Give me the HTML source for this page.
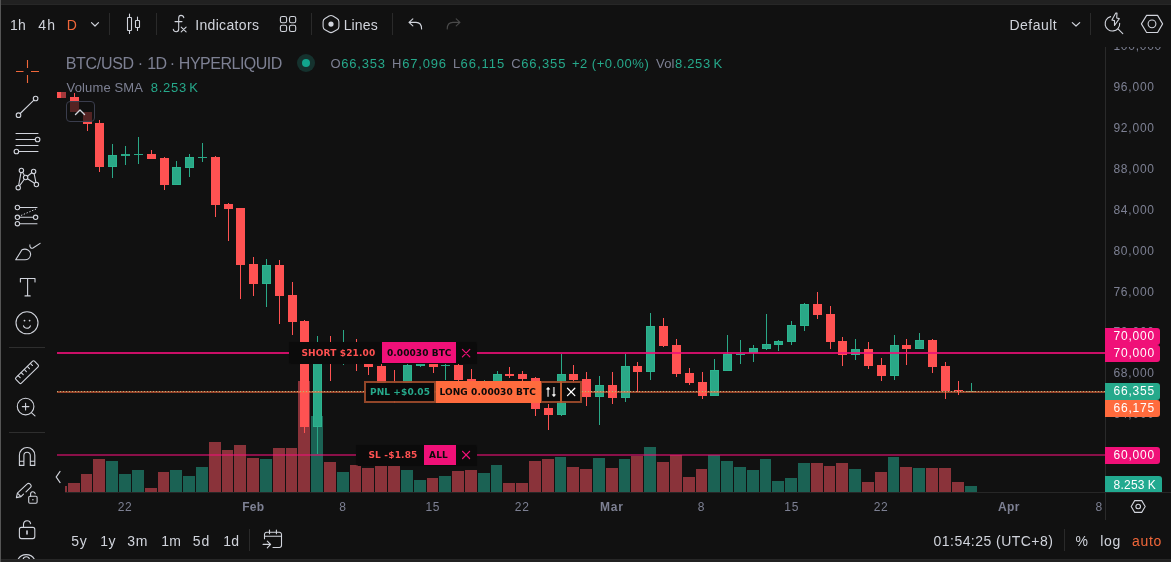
<!DOCTYPE html>
<html lang="en">
<head>
<meta charset="utf-8">
<title>BTC/USD Chart</title>
<style>
*{box-sizing:border-box;margin:0;padding:0}
html,body{width:1171px;height:562px;overflow:hidden;background:#111111}
body{position:relative;font-family:"Liberation Sans",sans-serif;color:#d1d4dc;font-size:14px}
.abs{position:absolute}
.t{position:absolute;white-space:nowrap;line-height:1}
.sep{position:absolute;width:1px;background:#2a2a2a}
.hsep{position:absolute;height:1px;background:#2e2e2e}
#topstrip{left:0;top:0;width:1171px;height:5px;background:#212121;border-bottom:1px solid #272727}
#botstrip{left:0;top:559px;width:1171px;height:3px;background:#212121;border-top:1px solid #272727}
#leftedge{left:0;top:0;width:1px;height:562px;background:#555555}
.tb{font-size:14px;color:#d1d4dc;top:17px}
.gray{color:#7d8093}
.green{color:#26a98b}
.lg{font-size:13px;top:57px;letter-spacing:.55px}
.ax{font-size:13px;color:#7d8093;left:1113px;letter-spacing:.25px}
.tm{font-size:12px;color:#7d8093;top:501px;letter-spacing:.3px}
.tm b{font-weight:700}
.plabel{position:absolute;left:1105px;width:55px;height:17px;border-radius:0 3px 3px 0;color:#fff;font-size:13px;line-height:17px;padding-left:8px;letter-spacing:.25px;white-space:nowrap}
.lblbg{background:#0b0b0b;box-shadow:0 0 1px 0.5px #0b0b0b}
.ol{font-family:"DejaVu Sans","Liberation Sans",sans-serif;font-weight:700;font-size:10px;position:absolute;white-space:nowrap;line-height:1}
svg{position:absolute;overflow:visible}
.ic{stroke:#d1d4dc;fill:none;stroke-width:1.1;stroke-linecap:round;stroke-linejoin:round}
</style>
</head>
<body>
<div class="abs" id="topstrip"></div>
<div class="abs" id="botstrip"></div>
<div class="abs" id="leftedge"></div>
<!-- top toolbar -->
<svg width="1171" height="562" viewBox="0 0 1171 562" style="left:0;top:0;pointer-events:none">
<g class="ic">
<!-- interval chevron -->
<path d="M91.5 22.6 L95 26 L98.5 22.6" style="stroke-width:1.2"/>
<!-- candles icon -->
<rect x="127.5" y="17.5" width="4" height="13" rx=".5"/>
<path d="M129.5 14 V17.5 M129.5 30.5 V33.5"/>
<rect x="135.5" y="20.5" width="4" height="7" rx=".5"/>
<path d="M137.5 17 V20.5 M137.5 27.5 V30.5"/>
<!-- fx -->
<path d="M183.8 17.7 C183.5 16 182.5 15.4 181 15.4 C179.5 15.4 178.7 16.5 178.7 18.3 L178.7 29 C178.7 31 177.5 31.7 176.2 31.7 C174.7 31.7 173.6 30.8 173.3 29.4 M175 21.6 H182 M181.2 27.1 L186.1 31.9 M186.1 27.1 L181.2 31.9"/>
<!-- grid -->
<rect x="280.4" y="16.5" width="6.2" height="6.2" rx="1.8"/>
<rect x="289.5" y="16.5" width="6.2" height="6.2" rx="1.8"/>
<rect x="280.4" y="25.3" width="6.2" height="6.2" rx="1.8"/>
<rect x="289.5" y="25.3" width="6.2" height="6.2" rx="1.8"/>
<!-- lines hex -->
<path d="M329.09 16.05 Q331.00 14.95 332.91 16.05 L336.99 18.40 Q338.90 19.50 338.90 21.70 L338.90 26.40 Q338.90 28.60 336.99 29.70 L332.91 32.05 Q331.00 33.15 329.09 32.05 L325.01 29.70 Q323.10 28.60 323.10 26.40 L323.10 21.70 Q323.10 19.50 325.01 18.40 Z"/>
<circle cx="331" cy="24.1" r="2.6" style="fill:#d1d4dc;stroke:none"/>
<!-- undo -->
<path d="M412.85 18.8 L409 22.35 L412.85 25.9 M409 22.35 H416 C419.5 22.35 421.6 24.8 421.6 28.9"/>
<!-- redo -->
<path d="M456.2 18.8 L460 22.35 L456.2 25.9 M460 22.35 H453 C449.5 22.35 447.2 24.8 447.2 28.9" style="stroke:#4a4a4a"/>
<!-- default chevron -->
<path d="M1072.3 22.6 L1076 26 L1079.7 22.6" style="stroke-width:1.2"/>
<!-- quick search -->
<path d="M1110.6 16.6 A7.3 7.3 0 1 0 1119.7 23.2 M1117.7 28.6 L1122.8 33.6"/>
<path d="M1115.8 13 L1111.9 19.95 L1114.5 20.6 L1114.5 25.5 L1119.3 18.65 L1116.7 18 L1117 13.1 Z"/>
<!-- settings hex -->
<path d="M1141.4 23.9 L1146.6 15.4 L1157.6 15.4 L1162.6 23.9 L1157.6 32.5 L1146.6 32.5 Z"/>
<circle cx="1152" cy="23.85" r="3.9"/>
<!-- bottom calendar -->
<path d="M264.5 538.8 V534.5 A2.2 2.2 0 0 1 266.7 532.3 H279.3 A2.2 2.2 0 0 1 281.5 534.5 V545.3 A2.2 2.2 0 0 1 279.3 547.5 H273 M264.5 536.2 H281.5 M269.5 530 V533.8 M276.4 530 V533.8 M263.1 544.4 H270.6 M267.3 541.2 L270.6 544.4 L267.3 547.8"/>
<!-- axis settings hex -->
<path d="M1131.2 506.5 L1134.7 500.6 L1141.7 500.6 L1145.2 506.5 L1141.7 512.4 L1134.7 512.4 Z"/>
<circle cx="1138.2" cy="506.5" r="2.3"/>
<!-- scroll left chevron -->
<path d="M60 471.5 L56.2 477 L60 482.5" style="stroke-width:1.3"/>
</g>
</svg>

<div class="sep" style="left:109px;top:13px;height:22px"></div>
<div class="sep" style="left:156px;top:13px;height:22px"></div>
<div class="sep" style="left:311px;top:13px;height:22px"></div>
<div class="sep" style="left:392px;top:13px;height:22px"></div>
<div class="sep" style="left:1090px;top:13px;height:22px"></div>
<!-- chart -->
<svg id="chart" width="1171" height="562" viewBox="0 0 1171 562" style="left:0;top:0" shape-rendering="crispEdges">
<rect x="65" y="486" width="2" height="6" fill="#8a333a"/>
<rect x="68" y="483" width="12" height="9" fill="#8a333a"/>
<rect x="81" y="474" width="11" height="18" fill="#8a333a"/>
<rect x="93" y="459" width="12" height="33" fill="#8a333a"/>
<rect x="106" y="461" width="12" height="31" fill="#1b6254"/>
<rect x="119" y="474" width="12" height="18" fill="#1b6254"/>
<rect x="132" y="470" width="12" height="22" fill="#1b6254"/>
<rect x="145" y="488" width="12" height="4" fill="#8a333a"/>
<rect x="158" y="472" width="11" height="20" fill="#8a333a"/>
<rect x="170" y="470" width="12" height="22" fill="#1b6254"/>
<rect x="183" y="476" width="12" height="16" fill="#1b6254"/>
<rect x="196" y="467" width="12" height="25" fill="#1b6254"/>
<rect x="209" y="442" width="12" height="50" fill="#8a333a"/>
<rect x="222" y="450" width="11" height="42" fill="#8a333a"/>
<rect x="234" y="445" width="12" height="47" fill="#8a333a"/>
<rect x="247" y="458" width="12" height="34" fill="#8a333a"/>
<rect x="260" y="459" width="12" height="33" fill="#1b6254"/>
<rect x="273" y="448" width="12" height="44" fill="#8a333a"/>
<rect x="286" y="448" width="11" height="44" fill="#8a333a"/>
<rect x="298" y="381" width="12" height="111" fill="#8a333a"/>
<rect x="311" y="416" width="12" height="76" fill="#1b6254"/>
<rect x="324" y="462" width="12" height="30" fill="#8a333a"/>
<rect x="337" y="472" width="12" height="20" fill="#1b6254"/>
<rect x="350" y="465" width="11" height="27" fill="#8a333a"/>
<rect x="362" y="468" width="12" height="24" fill="#8a333a"/>
<rect x="375" y="464" width="12" height="28" fill="#8a333a"/>
<rect x="388" y="463" width="12" height="29" fill="#8a333a"/>
<rect x="401" y="470" width="12" height="22" fill="#1b6254"/>
<rect x="414" y="480" width="12" height="12" fill="#1b6254"/>
<rect x="427" y="478" width="11" height="14" fill="#8a333a"/>
<rect x="439" y="476" width="12" height="16" fill="#1b6254"/>
<rect x="452" y="471" width="12" height="21" fill="#8a333a"/>
<rect x="465" y="470" width="12" height="22" fill="#8a333a"/>
<rect x="478" y="473" width="12" height="19" fill="#1b6254"/>
<rect x="491" y="465" width="11" height="27" fill="#1b6254"/>
<rect x="503" y="483" width="12" height="9" fill="#8a333a"/>
<rect x="516" y="483" width="12" height="9" fill="#8a333a"/>
<rect x="529" y="461" width="12" height="31" fill="#8a333a"/>
<rect x="542" y="459" width="12" height="33" fill="#8a333a"/>
<rect x="555" y="457" width="11" height="35" fill="#1b6254"/>
<rect x="567" y="467" width="12" height="25" fill="#8a333a"/>
<rect x="580" y="469" width="12" height="23" fill="#8a333a"/>
<rect x="593" y="458" width="12" height="34" fill="#1b6254"/>
<rect x="606" y="468" width="12" height="24" fill="#8a333a"/>
<rect x="619" y="459" width="11" height="33" fill="#1b6254"/>
<rect x="631" y="456" width="12" height="36" fill="#8a333a"/>
<rect x="644" y="447" width="12" height="45" fill="#1b6254"/>
<rect x="657" y="462" width="12" height="30" fill="#8a333a"/>
<rect x="670" y="455" width="12" height="37" fill="#8a333a"/>
<rect x="683" y="477" width="12" height="15" fill="#8a333a"/>
<rect x="696" y="469" width="11" height="23" fill="#8a333a"/>
<rect x="708" y="455" width="12" height="37" fill="#1b6254"/>
<rect x="721" y="461" width="12" height="31" fill="#1b6254"/>
<rect x="734" y="467" width="12" height="25" fill="#1b6254"/>
<rect x="747" y="470" width="12" height="22" fill="#1b6254"/>
<rect x="760" y="459" width="11" height="33" fill="#1b6254"/>
<rect x="772" y="481" width="12" height="11" fill="#1b6254"/>
<rect x="785" y="478" width="12" height="14" fill="#1b6254"/>
<rect x="798" y="463" width="12" height="29" fill="#1b6254"/>
<rect x="811" y="463" width="12" height="29" fill="#8a333a"/>
<rect x="824" y="466" width="11" height="26" fill="#8a333a"/>
<rect x="836" y="463" width="12" height="29" fill="#8a333a"/>
<rect x="849" y="469" width="12" height="23" fill="#1b6254"/>
<rect x="862" y="482" width="12" height="10" fill="#8a333a"/>
<rect x="875" y="472" width="12" height="20" fill="#8a333a"/>
<rect x="888" y="457" width="11" height="35" fill="#1b6254"/>
<rect x="900" y="467" width="12" height="25" fill="#8a333a"/>
<rect x="913" y="468" width="12" height="24" fill="#1b6254"/>
<rect x="926" y="468" width="12" height="24" fill="#8a333a"/>
<rect x="939" y="468" width="12" height="24" fill="#8a333a"/>
<rect x="952" y="482" width="12" height="10" fill="#8a333a"/>
<rect x="965" y="486" width="12" height="6" fill="#1b6254"/>
<rect x="61" y="92" width="1" height="6" fill="#ff5252"/>
<rect x="57" y="92" width="9" height="6" fill="#ff5252"/>
<rect x="74" y="93" width="1" height="19" fill="#ff5252"/>
<rect x="70" y="97" width="9" height="15" fill="#ff5252"/>
<rect x="87" y="112" width="1" height="19" fill="#ff5252"/>
<rect x="83" y="112" width="9" height="12" fill="#ff5252"/>
<rect x="99" y="120" width="1" height="52" fill="#ff5252"/>
<rect x="95" y="123" width="9" height="44" fill="#ff5252"/>
<rect x="112" y="144" width="1" height="33.5" fill="#2aa887"/>
<rect x="108.5" y="155.5" width="8" height="11" fill="#2aa887" stroke="#2db48f" stroke-width="1"/>
<rect x="125" y="146" width="1" height="19" fill="#2aa887"/>
<rect x="121" y="154" width="9" height="1.5" fill="#2aa887"/>
<rect x="138" y="137" width="1" height="27" fill="#2aa887"/>
<rect x="134" y="154" width="9" height="1" fill="#2aa887"/>
<rect x="151" y="150" width="1" height="9" fill="#ff5252"/>
<rect x="147" y="154" width="9" height="5" fill="#ff5252"/>
<rect x="164" y="157" width="1" height="33" fill="#ff5252"/>
<rect x="160" y="158" width="9" height="27" fill="#ff5252"/>
<rect x="176" y="161" width="1" height="24" fill="#2aa887"/>
<rect x="172.5" y="167.5" width="8" height="17" fill="#2aa887" stroke="#2db48f" stroke-width="1"/>
<rect x="189" y="154" width="1" height="23" fill="#2aa887"/>
<rect x="185.5" y="157.5" width="8" height="10" fill="#2aa887" stroke="#2db48f" stroke-width="1"/>
<rect x="202" y="143" width="1" height="19" fill="#2aa887"/>
<rect x="198" y="157" width="9" height="1" fill="#2aa887"/>
<rect x="215" y="156" width="1" height="61" fill="#ff5252"/>
<rect x="211" y="157" width="9" height="48" fill="#ff5252"/>
<rect x="228" y="203" width="1" height="38" fill="#ff5252"/>
<rect x="224" y="204" width="9" height="5" fill="#ff5252"/>
<rect x="240" y="208" width="1" height="91" fill="#ff5252"/>
<rect x="236" y="208" width="9" height="57" fill="#ff5252"/>
<rect x="253" y="257" width="1" height="39" fill="#ff5252"/>
<rect x="249" y="264" width="9" height="20" fill="#ff5252"/>
<rect x="266" y="259" width="1" height="48" fill="#2aa887"/>
<rect x="262.5" y="265.5" width="8" height="18" fill="#2aa887" stroke="#2db48f" stroke-width="1"/>
<rect x="279" y="260" width="1" height="64" fill="#ff5252"/>
<rect x="275" y="265" width="9" height="31" fill="#ff5252"/>
<rect x="292" y="282" width="1" height="53" fill="#ff5252"/>
<rect x="288" y="295" width="9" height="27" fill="#ff5252"/>
<rect x="304" y="320" width="1" height="113" fill="#ff5252"/>
<rect x="300" y="321" width="9" height="106" fill="#ff5252"/>
<rect x="317" y="336" width="1" height="118" fill="#2aa887"/>
<rect x="313.5" y="352.5" width="8" height="74" fill="#2aa887" stroke="#2db48f" stroke-width="1"/>
<rect x="330" y="336" width="1" height="45" fill="#ff5252"/>
<rect x="326" y="352" width="9" height="6" fill="#ff5252"/>
<rect x="343" y="330" width="1" height="35" fill="#2aa887"/>
<rect x="339.5" y="351.5" width="8" height="6" fill="#2aa887" stroke="#2db48f" stroke-width="1"/>
<rect x="356" y="339" width="1" height="32" fill="#ff5252"/>
<rect x="352" y="351" width="9" height="9" fill="#ff5252"/>
<rect x="368" y="360" width="1" height="15" fill="#ff5252"/>
<rect x="364" y="360" width="9" height="7" fill="#ff5252"/>
<rect x="381" y="364" width="1" height="21" fill="#ff5252"/>
<rect x="377" y="366" width="9" height="19" fill="#ff5252"/>
<rect x="394" y="370" width="1" height="32.5" fill="#ff5252"/>
<rect x="390" y="385" width="9" height="10" fill="#ff5252"/>
<rect x="407" y="363" width="1" height="32" fill="#2aa887"/>
<rect x="403.5" y="365.5" width="8" height="29" fill="#2aa887" stroke="#2db48f" stroke-width="1"/>
<rect x="420" y="355" width="1" height="12" fill="#2aa887"/>
<rect x="416.5" y="358.5" width="8" height="7" fill="#2aa887" stroke="#2db48f" stroke-width="1"/>
<rect x="433" y="356" width="1" height="17" fill="#ff5252"/>
<rect x="429" y="358" width="9" height="9" fill="#ff5252"/>
<rect x="445" y="360" width="1" height="20" fill="#2aa887"/>
<rect x="441" y="365" width="9" height="1" fill="#2aa887"/>
<rect x="458" y="363" width="1" height="21" fill="#ff5252"/>
<rect x="454" y="365" width="9" height="15" fill="#ff5252"/>
<rect x="471" y="369" width="1" height="23" fill="#ff5252"/>
<rect x="467" y="379" width="9" height="11" fill="#ff5252"/>
<rect x="484" y="380" width="1" height="15" fill="#2aa887"/>
<rect x="480.5" y="385.5" width="8" height="4" fill="#2aa887" stroke="#2db48f" stroke-width="1"/>
<rect x="497" y="371" width="1" height="17" fill="#2aa887"/>
<rect x="493.5" y="374.5" width="8" height="10" fill="#2aa887" stroke="#2db48f" stroke-width="1"/>
<rect x="509" y="367" width="1" height="11" fill="#ff5252"/>
<rect x="505" y="374" width="9" height="1.5" fill="#ff5252"/>
<rect x="522" y="371" width="1" height="11" fill="#ff5252"/>
<rect x="518" y="374" width="9" height="5" fill="#ff5252"/>
<rect x="535" y="377" width="1" height="39" fill="#ff5252"/>
<rect x="531" y="378" width="9" height="31" fill="#ff5252"/>
<rect x="548" y="404" width="1" height="26" fill="#ff5252"/>
<rect x="544" y="408" width="9" height="7" fill="#ff5252"/>
<rect x="561" y="354" width="1" height="62" fill="#2aa887"/>
<rect x="557.5" y="374.5" width="8" height="40" fill="#2aa887" stroke="#2db48f" stroke-width="1"/>
<rect x="573" y="365" width="1" height="19" fill="#ff5252"/>
<rect x="569" y="374" width="9" height="6" fill="#ff5252"/>
<rect x="586" y="372" width="1" height="34" fill="#ff5252"/>
<rect x="582" y="379" width="9" height="18" fill="#ff5252"/>
<rect x="599" y="376" width="1" height="49" fill="#2aa887"/>
<rect x="595.5" y="385.5" width="8" height="11" fill="#2aa887" stroke="#2db48f" stroke-width="1"/>
<rect x="612" y="372" width="1" height="32" fill="#ff5252"/>
<rect x="608" y="385" width="9" height="13" fill="#ff5252"/>
<rect x="625" y="354" width="1" height="48" fill="#2aa887"/>
<rect x="621.5" y="366.5" width="8" height="31" fill="#2aa887" stroke="#2db48f" stroke-width="1"/>
<rect x="637" y="362" width="1" height="30" fill="#ff5252"/>
<rect x="633" y="366" width="9" height="6" fill="#ff5252"/>
<rect x="650" y="313" width="1" height="67" fill="#2aa887"/>
<rect x="646.5" y="326.5" width="8" height="45" fill="#2aa887" stroke="#2db48f" stroke-width="1"/>
<rect x="663" y="318" width="1" height="29" fill="#ff5252"/>
<rect x="659" y="326" width="9" height="20" fill="#ff5252"/>
<rect x="676" y="339" width="1" height="38" fill="#ff5252"/>
<rect x="672" y="345" width="9" height="29" fill="#ff5252"/>
<rect x="689" y="368" width="1" height="17" fill="#ff5252"/>
<rect x="685" y="373" width="9" height="10" fill="#ff5252"/>
<rect x="702" y="372" width="1" height="27" fill="#ff5252"/>
<rect x="698" y="382" width="9" height="14" fill="#ff5252"/>
<rect x="714" y="359" width="1" height="37" fill="#2aa887"/>
<rect x="710.5" y="370.5" width="8" height="25" fill="#2aa887" stroke="#2db48f" stroke-width="1"/>
<rect x="727" y="335" width="1" height="36" fill="#2aa887"/>
<rect x="723.5" y="354.5" width="8" height="16" fill="#2aa887" stroke="#2db48f" stroke-width="1"/>
<rect x="740" y="340" width="1" height="24" fill="#2aa887"/>
<rect x="736" y="354" width="9" height="1" fill="#2aa887"/>
<rect x="753" y="345" width="1" height="17" fill="#2aa887"/>
<rect x="749.5" y="348.5" width="8" height="3.5" fill="#2aa887" stroke="#2db48f" stroke-width="1"/>
<rect x="766" y="314" width="1" height="36" fill="#2aa887"/>
<rect x="762.5" y="344.5" width="8" height="4" fill="#2aa887" stroke="#2db48f" stroke-width="1"/>
<rect x="778" y="340" width="1" height="11" fill="#2aa887"/>
<rect x="774.5" y="341.5" width="8" height="3" fill="#2aa887" stroke="#2db48f" stroke-width="1"/>
<rect x="791" y="321" width="1" height="24" fill="#2aa887"/>
<rect x="787.5" y="325.5" width="8" height="16" fill="#2aa887" stroke="#2db48f" stroke-width="1"/>
<rect x="804" y="303" width="1" height="28" fill="#2aa887"/>
<rect x="800.5" y="304.5" width="8" height="21" fill="#2aa887" stroke="#2db48f" stroke-width="1"/>
<rect x="817" y="292" width="1" height="27" fill="#ff5252"/>
<rect x="813" y="304" width="9" height="11" fill="#ff5252"/>
<rect x="830" y="306" width="1" height="43" fill="#ff5252"/>
<rect x="826" y="314" width="9" height="28" fill="#ff5252"/>
<rect x="842" y="337" width="1" height="29" fill="#ff5252"/>
<rect x="838" y="341" width="9" height="14" fill="#ff5252"/>
<rect x="855" y="339" width="1" height="21" fill="#2aa887"/>
<rect x="851.5" y="349.5" width="8" height="5" fill="#2aa887" stroke="#2db48f" stroke-width="1"/>
<rect x="868" y="342" width="1" height="27" fill="#ff5252"/>
<rect x="864" y="349" width="9" height="17" fill="#ff5252"/>
<rect x="881" y="358" width="1" height="23" fill="#ff5252"/>
<rect x="877" y="365" width="9" height="11" fill="#ff5252"/>
<rect x="894" y="335" width="1" height="45" fill="#2aa887"/>
<rect x="890.5" y="345.5" width="8" height="30" fill="#2aa887" stroke="#2db48f" stroke-width="1"/>
<rect x="906" y="339" width="1" height="26" fill="#ff5252"/>
<rect x="902" y="345" width="9" height="4" fill="#ff5252"/>
<rect x="919" y="333" width="1" height="16" fill="#2aa887"/>
<rect x="915.5" y="340.5" width="8" height="8" fill="#2aa887" stroke="#2db48f" stroke-width="1"/>
<rect x="932" y="339" width="1" height="34" fill="#ff5252"/>
<rect x="928" y="340" width="9" height="27" fill="#ff5252"/>
<rect x="945" y="362" width="1" height="37" fill="#ff5252"/>
<rect x="941" y="366" width="9" height="25" fill="#ff5252"/>
<rect x="958" y="381" width="1" height="14" fill="#ff5252"/>
<rect x="954" y="390" width="9" height="1" fill="#ff5252"/>
<rect x="971" y="383" width="1" height="9" fill="#2aa887"/>
<rect x="967" y="391" width="9" height="1" fill="#2aa887"/>
<rect x="61" y="92" width="5" height="6" fill="#a3383b"/>
<rect x="57" y="352" width="1048" height="2" fill="#f01078" fill-opacity="0.84"/>
<rect x="57" y="391" width="1048" height="2" fill="#ff6b3d" fill-opacity="0.555"/>
<line x1="57" y1="391.5" x2="1105" y2="391.5" stroke="#b5b07c" stroke-width="1" stroke-dasharray="1 2" stroke-dashoffset="0"/>
<rect x="57" y="454" width="1048" height="2" fill="#f01078" fill-opacity="0.55"/>
</svg>
<!-- legend -->
<div class="abs" style="left:297px;top:54px;width:18px;height:18px;border-radius:50%;background:#15322e"></div>
<div class="abs" style="left:302px;top:59px;width:8px;height:8px;border-radius:50%;background:#12a58d"></div>
<div class="abs" style="left:66px;top:101px;width:29px;height:21px;border:1px solid #3a3d4d;border-radius:4px;background:rgba(17,17,17,.72)"></div>
<svg width="12" height="8" style="left:74px;top:108px"><path d="M1.5 6.5 L6 2 L10.5 6.5" class="ic" style="stroke-width:1.4"/></svg>
<!-- price axis -->
<div class="sep" style="left:1105px;top:47px;height:473px"></div>
<div class="hsep" style="left:65px;top:492px;width:1106px;background:#272727"></div>
<div class="t" style="left:1113.38px;top:81px;font-size:12px;color:#7d8093;letter-spacing:0.789px">96,000</div>
<div class="t" style="left:1113.38px;top:122px;font-size:12px;color:#7d8093;letter-spacing:0.789px">92,000</div>
<div class="t" style="left:1113.38px;top:163px;font-size:12px;color:#7d8093;letter-spacing:0.789px">88,000</div>
<div class="t" style="left:1113.38px;top:204px;font-size:12px;color:#7d8093;letter-spacing:0.789px">84,000</div>
<div class="t" style="left:1113.38px;top:245px;font-size:12px;color:#7d8093;letter-spacing:0.789px">80,000</div>
<div class="t" style="left:1113.38px;top:286px;font-size:12px;color:#7d8093;letter-spacing:0.789px">76,000</div>
<div class="t" style="left:1113.38px;top:326px;font-size:12px;color:#7d8093;letter-spacing:0.789px">72,000</div>
<div class="t" style="left:1113.38px;top:367px;font-size:12px;color:#7d8093;letter-spacing:0.789px">68,000</div>
<div class="t" style="left:1113.38px;top:408px;font-size:12px;color:#7d8093;letter-spacing:0.789px">64,000</div>
<div class="abs" style="left:1106px;top:47px;width:65px;height:10px;overflow:hidden"><div class="t" style="left:7.38px;top:-7px;font-size:12px;color:#7d8093;letter-spacing:0.750px">100,000</div></div>
<div class="plabel" style="top:328px;background:#f01078"></div>
<div class="plabel" style="top:345px;background:#f01078"></div>
<div class="plabel" style="top:383px;background:#26a98b"></div>
<div class="plabel" style="top:400px;background:#ff6b3d"></div>
<div class="plabel" style="top:447px;background:#f01078"></div>
<div class="plabel" style="top:476px;height:16px;width:57px;background:#22aa90;border-radius:0 3px 0 0"></div>
<!-- time axis -->
<!-- order labels -->
<div class="abs lblbg" style="left:289px;top:342px;width:187px;height:20.5px"></div>
<div class="abs" style="left:382.4px;top:342.4px;width:74.1px;height:20.8px;background:#f01078"></div>
<div class="abs lblbg" style="left:356px;top:445px;width:120px;height:20px"></div>
<div class="abs" style="left:424px;top:445px;width:32px;height:20px;background:#f01078"></div>
<div class="abs" style="left:364px;top:381px;width:218px;height:22px;background:#9c4a2b;opacity:.93"></div>
<div class="abs" style="left:366px;top:383px;width:68px;height:18px;background:#0a0a0a"></div>
<div class="abs" style="left:436px;top:381px;width:105px;height:22px;background:#ff6b3d"></div>
<div class="abs" style="left:542px;top:383px;width:18px;height:18px;background:#0a0a0a"></div>
<div class="abs" style="left:560px;top:381px;width:2px;height:22px;background:#b85a30"></div>
<div class="abs" style="left:562px;top:383px;width:18px;height:18px;background:#0a0a0a"></div>
<svg width="1171" height="562" viewBox="0 0 1171 562" style="left:0;top:0;pointer-events:none">
<g style="fill:none;stroke-linecap:round;stroke-width:1.2">
<path d="M462.4 349.4 L469.8 356.8 M469.8 349.4 L462.4 356.8" stroke="#f01078"/>
<path d="M462.6 451.3 L469.6 458.5 M469.6 451.3 L462.6 458.5" stroke="#f01078"/>
<path d="M567.5 388.3 L574.8 395.6 M574.8 388.3 L567.5 395.6" stroke="#ffffff" style="stroke-width:1.3"/>
</g>
<path d="M548.1 388.6 V396.8" stroke="#9c9c9c" stroke-width="1.9" fill="none"/>
<path d="M546.6 389.2 L548.1 387.3 L549.6 389.2 Z" fill="#ffffff" stroke="#ffffff" stroke-width=".8" stroke-linejoin="round"/>
<path d="M553.9 387 V395.2" stroke="#9c9c9c" stroke-width="1.9" fill="none"/>
<path d="M552.4 394.7 L553.9 396.6 L555.4 394.7 Z" fill="#ffffff" stroke="#ffffff" stroke-width=".8" stroke-linejoin="round"/>
</svg>
<!-- bottom toolbar -->
<div class="sep" style="left:249px;top:529px;height:22px"></div>
<div class="sep" style="left:1064px;top:529px;height:22px"></div>
<!-- left toolbar -->
<div class="hsep" style="left:9px;top:347px;width:36px"></div>
<div class="hsep" style="left:9px;top:432px;width:36px"></div>
<svg width="60" height="559" viewBox="0 0 60 559" style="left:0;top:0;pointer-events:none;overflow:hidden">
<g class="ic">
<!-- crosshair -->
<path d="M16 71.5 H23.5 M31 71.5 H39 M27.5 60 V68 M27.5 75 V83" style="stroke:#f0673a;stroke-linecap:butt"/>
<!-- trend line -->
<circle cx="35.6" cy="98.5" r="2.3"/><circle cx="18.5" cy="115.2" r="2.3"/>
<path d="M20.2 113.5 L33.9 100.2"/>
<!-- fib -->
<path d="M16 133.5 H38 M16 139.5 H35.3 M16 145.5 H38 M18.7 151.5 H38"/>
<circle cx="37.6" cy="139.5" r="2.3"/><circle cx="16.4" cy="151.5" r="2.3"/>
<!-- pattern -->
<circle cx="21.4" cy="170.4" r="2.2"/><circle cx="33.6" cy="171.4" r="2.2"/><circle cx="25.6" cy="177.5" r="2.2"/><circle cx="36.4" cy="184.5" r="2.2"/><circle cx="18.2" cy="187.7" r="2.2"/>
<path d="M21 172.6 L18.6 185.5 M22.6 172.3 L24.5 175.6 M24.3 179.3 L19.5 185.9 M27.4 176.2 L31.8 172.7 M34.1 173.5 L35.9 182.4 M27.5 178.7 L34.5 183.3"/>
<!-- forecast -->
<circle cx="17.4" cy="207.5" r="2.2"/><circle cx="17.4" cy="217.3" r="2.2"/><circle cx="17.4" cy="223.7" r="2.2"/><circle cx="35.6" cy="217.3" r="2.2"/>
<path d="M19.6 207.5 H37 M19.6 217.3 H33.4 M19.6 223.7 H37"/>
<path d="M21.4 215.3 L35.6 209.2" style="stroke-dasharray:.6 2.4;stroke-width:1"/>
<!-- brush -->
<path d="M15.7 259.8 L22 249.8 C26 248 31 250.5 30.6 254.5 C30.3 258 27.5 259.8 25 259.8 Z"/>
<path d="M29.9 244.8 C29.5 247 31 249 33 248 L40.1 243.4"/>
<!-- text T -->
<path d="M20.4 282 V278.5 H35 V282 M27.6 278.5 V295.9 M25 295.9 H30.2"/>
<!-- smiley -->
<circle cx="27" cy="322.8" r="11"/>
<circle cx="24.5" cy="320.6" r=".9" style="fill:#d1d4dc;stroke:none"/><circle cx="29.6" cy="320.6" r=".9" style="fill:#d1d4dc;stroke:none"/>
<path d="M23.5 325.8 C24.5 329 29.5 329 30.4 325.8"/>
<!-- ruler -->
<g transform="rotate(-44.5 27 372.2)">
<rect x="14" y="368.3" width="26" height="7.8" rx="1.3"/>
<path d="M18.3 368.3 v3 M22.6 368.3 v3 M27 368.3 v3 M31.3 368.3 v3 M35.6 368.3 v3"/>
</g>
<!-- zoom -->
<circle cx="25.6" cy="406.6" r="8.3"/>
<path d="M22.3 406.6 H28.9 M25.6 403.3 V409.9 M31.6 412.8 L35 415.8"/>
<!-- magnet -->
<path d="M19.4 465.4 V455.2 A7.7 7.7 0 0 1 34.8 455.2 V465.4 H30.3 V455.4 A3.2 3.2 0 0 0 23.9 455.4 V465.4 Z M19.4 461.3 H23.9 M30.3 461.3 H34.8"/>
<!-- pencil + lock -->
<path d="M16.4 497.6 L17.4 493.2 L27.2 483.9 A1.9 1.9 0 0 1 29.9 483.9 L30.6 484.7 A1.9 1.9 0 0 1 30.6 487.4 L26 491.8 M16.4 497.6 L21 496.6 L23.5 494.2 M17.4 493.2 L21 496.6"/>
<rect x="28.7" y="496.2" width="8.4" height="7" rx="1.2"/>
<path d="M30.6 496.2 V494.2 A2.3 2.3 0 0 1 35.2 493.8"/>
<circle cx="32.9" cy="499.7" r=".7" style="fill:#d1d4dc;stroke:none"/>
<!-- lock -->
<rect x="19.4" y="527.4" width="15.4" height="11.2" rx="2"/>
<path d="M23.5 527.4 V524 A3.6 3.6 0 0 1 30.6 523.6"/>
<path d="M27 531 V534" style="stroke-width:1.6"/>
<!-- eye (cut) -->
<path d="M18 559.6 C21 553 31.5 553 34.5 559.6 M23.1 560 A3.2 3.2 0 0 1 29.5 560"/>
</g>
</svg>

<div class="t" style="left:10.06px;top:18px;font-size:14px;color:#d1d4dc;letter-spacing:0.251px">1h</div>
<div class="t" style="left:38.36px;top:18px;font-size:14px;color:#d1d4dc;letter-spacing:1.201px">4h</div>
<div class="t" style="left:66.69px;top:18px;font-size:14px;color:#f0673a;letter-spacing:0.000px">D</div>
<div class="t" style="left:195.16px;top:18px;font-size:14px;color:#d1d4dc;letter-spacing:0.348px">Indicators</div>
<div class="t" style="left:343.66px;top:18px;font-size:14px;color:#d1d4dc;letter-spacing:0.142px">Lines</div>
<div class="t" style="left:1009.56px;top:18px;font-size:14px;color:#d1d4dc;letter-spacing:0.446px">Default</div>
<div class="t" style="left:65.64px;top:56px;font-size:16px;color:#7d8093;letter-spacing:-0.288px">BTC/USD</div>
<div class="t" style="left:137.84px;top:56px;font-size:16px;color:#7d8093;letter-spacing:0.000px">·</div>
<div class="t" style="left:147.24px;top:56px;font-size:16px;color:#7d8093;letter-spacing:-0.717px">1D</div>
<div class="t" style="left:169.84px;top:56px;font-size:16px;color:#7d8093;letter-spacing:0.000px">·</div>
<div class="t" style="left:178.84px;top:56px;font-size:16px;color:#7d8093;letter-spacing:-0.495px">HYPERLIQUID</div>
<div class="t" style="left:330.39px;top:57px;font-size:13px;color:#7d8093;letter-spacing:0.000px">O</div>
<div class="t" style="left:341.22px;top:57px;font-size:13px;color:#26a98b;letter-spacing:0.799px">66,353</div>
<div class="t" style="left:391.95px;top:57px;font-size:13px;color:#7d8093;letter-spacing:0.000px">H</div>
<div class="t" style="left:402.22px;top:57px;font-size:13px;color:#26a98b;letter-spacing:0.799px">67,096</div>
<div class="t" style="left:452.93px;top:57px;font-size:13px;color:#7d8093;letter-spacing:0.000px">L</div>
<div class="t" style="left:460.62px;top:57px;font-size:13px;color:#26a98b;letter-spacing:0.961px">66,115</div>
<div class="t" style="left:511.25px;top:57px;font-size:13px;color:#7d8093;letter-spacing:0.000px">C</div>
<div class="t" style="left:521.22px;top:57px;font-size:13px;color:#26a98b;letter-spacing:0.899px">66,355</div>
<div class="t" style="left:572.02px;top:57px;font-size:13px;color:#26a98b;letter-spacing:0.466px">+2</div>
<div class="t" style="left:591.82px;top:57px;font-size:13px;color:#26a98b;letter-spacing:0.554px">(+0.00%)</div>
<div class="t" style="left:656.02px;top:57px;font-size:13px;color:#7d8093;letter-spacing:0.161px">Vol</div>
<div class="t" style="left:675.12px;top:57px;font-size:13px;color:#26a98b;letter-spacing:0.623px">8.253</div>
<div class="t" style="left:713.46px;top:57px;font-size:13px;color:#26a98b;letter-spacing:0.000px">K</div>
<div class="t" style="left:66.62px;top:81px;font-size:13px;color:#7d8093;letter-spacing:0.140px">Volume SMA</div>
<div class="t" style="left:150.82px;top:81px;font-size:13px;color:#26a98b;letter-spacing:0.703px">8.253</div>
<div class="t" style="left:189.36px;top:81px;font-size:13px;color:#26a98b;letter-spacing:0.000px">K</div>
<div class="t" style="left:1113.48px;top:330px;font-size:12px;color:#ffffff;letter-spacing:0.789px">70,000</div>
<div class="t" style="left:1113.48px;top:347px;font-size:12px;color:#ffffff;letter-spacing:0.789px">70,000</div>
<div class="t" style="left:1113.48px;top:385px;font-size:12px;color:#ffffff;letter-spacing:0.789px">66,355</div>
<div class="t" style="left:1113.48px;top:402px;font-size:12px;color:#ffffff;letter-spacing:0.789px">66,175</div>
<div class="t" style="left:1113.48px;top:449px;font-size:12px;color:#ffffff;letter-spacing:0.789px">60,000</div>
<div class="t" style="left:1113.48px;top:479px;font-size:12px;color:#ffffff;letter-spacing:0.242px">8.253</div>
<div class="t" style="left:1147.74px;top:479px;font-size:12px;color:#ffffff;letter-spacing:0.000px">K</div>
<div class="t" style="left:117.78px;top:501px;font-size:12px;color:#7d8093;letter-spacing:0.540px">22</div>
<div class="t" style="left:242.28px;top:501px;font-size:12px;color:#7d8093;letter-spacing:0.199px;font-weight:700">Feb</div>
<div class="t" style="left:339.21px;top:501px;font-size:12px;color:#7d8093;letter-spacing:0.000px">8</div>
<div class="t" style="left:425.58px;top:501px;font-size:12px;color:#7d8093;letter-spacing:0.540px">15</div>
<div class="t" style="left:514.78px;top:501px;font-size:12px;color:#7d8093;letter-spacing:0.690px">22</div>
<div class="t" style="left:600.08px;top:501px;font-size:12px;color:#7d8093;letter-spacing:0.765px;font-weight:700">Mar</div>
<div class="t" style="left:697.81px;top:501px;font-size:12px;color:#7d8093;letter-spacing:0.000px">8</div>
<div class="t" style="left:784.28px;top:501px;font-size:12px;color:#7d8093;letter-spacing:0.690px">15</div>
<div class="t" style="left:873.78px;top:501px;font-size:12px;color:#7d8093;letter-spacing:0.540px">22</div>
<div class="t" style="left:997.98px;top:501px;font-size:12px;color:#7d8093;letter-spacing:0.423px;font-weight:700">Apr</div>
<div class="t" style="left:1095.46px;top:501px;font-size:12px;color:#7d8093;letter-spacing:0.000px">8</div>
<div class="t" style="left:301.46px;top:349px;font-size:9px;color:#ff5252;letter-spacing:0.140px;font-weight:700;font-family:'DejaVu Sans','Liberation Sans',sans-serif">SHORT $21.00</div>
<div class="t" style="left:386.96px;top:349px;font-size:9px;color:#0a0a0a;letter-spacing:0.077px;font-weight:700;font-family:'DejaVu Sans','Liberation Sans',sans-serif">0.00030 BTC</div>
<div class="t" style="left:369.96px;top:388px;font-size:9px;color:#26a98b;letter-spacing:0.106px;font-weight:700;font-family:'DejaVu Sans','Liberation Sans',sans-serif">PNL +$0.05</div>
<div class="t" style="left:439.46px;top:388px;font-size:9px;color:#0a0a0a;letter-spacing:0.108px;font-weight:700;font-family:'DejaVu Sans','Liberation Sans',sans-serif">LONG 0.00030 BTC</div>
<div class="t" style="left:368.46px;top:451px;font-size:9px;color:#ff5252;letter-spacing:0.169px;font-weight:700;font-family:'DejaVu Sans','Liberation Sans',sans-serif">SL -$1.85</div>
<div class="t" style="left:428.96px;top:451px;font-size:9px;color:#0a0a0a;letter-spacing:0.214px;font-weight:700;font-family:'DejaVu Sans','Liberation Sans',sans-serif">ALL</div>
<div class="t" style="left:71.16px;top:534px;font-size:14px;color:#d1d4dc;letter-spacing:0.792px">5y</div>
<div class="t" style="left:100.16px;top:534px;font-size:14px;color:#d1d4dc;letter-spacing:0.442px">1y</div>
<div class="t" style="left:127.16px;top:534px;font-size:14px;color:#d1d4dc;letter-spacing:0.913px">3m</div>
<div class="t" style="left:161.16px;top:534px;font-size:14px;color:#d1d4dc;letter-spacing:0.213px">1m</div>
<div class="t" style="left:192.86px;top:534px;font-size:14px;color:#d1d4dc;letter-spacing:0.851px">5d</div>
<div class="t" style="left:223.16px;top:534px;font-size:14px;color:#d1d4dc;letter-spacing:0.251px">1d</div>
<div class="t" style="left:933.56px;top:534px;font-size:14px;color:#d1d4dc;letter-spacing:0.458px">01:54:25 (UTC+8)</div>
<div class="t" style="left:1075.57px;top:534px;font-size:14px;color:#d1d4dc;letter-spacing:0.000px">%</div>
<div class="t" style="left:1100.16px;top:534px;font-size:14px;color:#d1d4dc;letter-spacing:0.664px">log</div>
<div class="t" style="left:1132.06px;top:534px;font-size:14px;color:#f0673a;letter-spacing:0.682px">auto</div>
</body>
</html>
